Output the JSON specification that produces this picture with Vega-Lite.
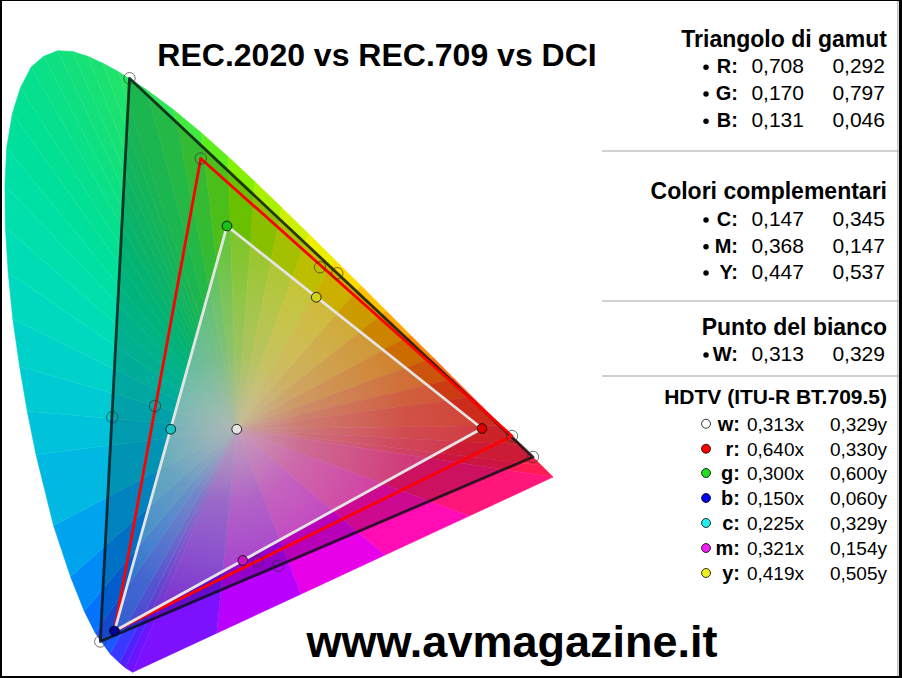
{
  "$schema": "https://vega.github.io/schema/vega-lite/v6.json",
  "width": 897,
  "height": 675,
  "autosize": {"type": "none"},
  "padding": {"left": 2, "top": 1, "right": 3, "bottom": 2},
  "background": "#000000",
  "config": {
    "view": {"fill": "#ffffff", "stroke": null},
    "axis": {"labels": false, "ticks": false, "domain": false, "grid": true, "gridColor": "#a3a3a3", "gridWidth": 1, "titleOpacity": 0},
    "text": {"font": "Liberation Sans"}
  },
  "datasets": {
    "fan": [
      {"s":0,"o":0,"x":0.313,"y":0.329},{"s":0,"o":1,"x":0.1741,"y":0.0050},{"s":0,"o":2,"x":0.1644,"y":0.0109},
      {"s":1,"o":0,"x":0.313,"y":0.329},{"s":1,"o":1,"x":0.1644,"y":0.0109},{"s":1,"o":2,"x":0.1566,"y":0.0177},
      {"s":2,"o":0,"x":0.313,"y":0.329},{"s":2,"o":1,"x":0.1566,"y":0.0177},{"s":2,"o":2,"x":0.1440,"y":0.0297},
      {"s":3,"o":0,"x":0.313,"y":0.329},{"s":3,"o":1,"x":0.1440,"y":0.0297},{"s":3,"o":2,"x":0.1241,"y":0.0578},
      {"s":4,"o":0,"x":0.313,"y":0.329},{"s":4,"o":1,"x":0.1241,"y":0.0578},{"s":4,"o":2,"x":0.1096,"y":0.0868},
      {"s":5,"o":0,"x":0.313,"y":0.329},{"s":5,"o":1,"x":0.1096,"y":0.0868},{"s":5,"o":2,"x":0.0913,"y":0.1327},
      {"s":6,"o":0,"x":0.313,"y":0.329},{"s":6,"o":1,"x":0.0913,"y":0.1327},{"s":6,"o":2,"x":0.0687,"y":0.2007},
      {"s":7,"o":0,"x":0.313,"y":0.329},{"s":7,"o":1,"x":0.0687,"y":0.2007},{"s":7,"o":2,"x":0.0454,"y":0.2950},
      {"s":8,"o":0,"x":0.313,"y":0.329},{"s":8,"o":1,"x":0.0454,"y":0.2950},{"s":8,"o":2,"x":0.0337,"y":0.3531},
      {"s":9,"o":0,"x":0.313,"y":0.329},{"s":9,"o":1,"x":0.0337,"y":0.3531},{"s":9,"o":2,"x":0.0235,"y":0.4127},
      {"s":10,"o":0,"x":0.313,"y":0.329},{"s":10,"o":1,"x":0.0235,"y":0.4127},{"s":10,"o":2,"x":0.0144,"y":0.4760},
      {"s":11,"o":0,"x":0.313,"y":0.329},{"s":11,"o":1,"x":0.0144,"y":0.4760},{"s":11,"o":2,"x":0.0082,"y":0.5384},
      {"s":12,"o":0,"x":0.313,"y":0.329},{"s":12,"o":1,"x":0.0082,"y":0.5384},{"s":12,"o":2,"x":0.0045,"y":0.5980},
      {"s":13,"o":0,"x":0.313,"y":0.329},{"s":13,"o":1,"x":0.0045,"y":0.5980},{"s":13,"o":2,"x":0.0039,"y":0.6548},
      {"s":14,"o":0,"x":0.313,"y":0.329},{"s":14,"o":1,"x":0.0039,"y":0.6548},{"s":14,"o":2,"x":0.0062,"y":0.7040},
      {"s":15,"o":0,"x":0.313,"y":0.329},{"s":15,"o":1,"x":0.0062,"y":0.7040},{"s":15,"o":2,"x":0.0139,"y":0.7502},
      {"s":16,"o":0,"x":0.313,"y":0.329},{"s":16,"o":1,"x":0.0139,"y":0.7502},{"s":16,"o":2,"x":0.0246,"y":0.7842},
      {"s":17,"o":0,"x":0.313,"y":0.329},{"s":17,"o":1,"x":0.0246,"y":0.7842},{"s":17,"o":2,"x":0.0389,"y":0.8120},
      {"s":18,"o":0,"x":0.313,"y":0.329},{"s":18,"o":1,"x":0.0389,"y":0.8120},{"s":18,"o":2,"x":0.0556,"y":0.8262},
      {"s":19,"o":0,"x":0.313,"y":0.329},{"s":19,"o":1,"x":0.0556,"y":0.8262},{"s":19,"o":2,"x":0.0743,"y":0.8338},
      {"s":20,"o":0,"x":0.313,"y":0.329},{"s":20,"o":1,"x":0.0743,"y":0.8338},{"s":20,"o":2,"x":0.0940,"y":0.8328},
      {"s":21,"o":0,"x":0.313,"y":0.329},{"s":21,"o":1,"x":0.0940,"y":0.8328},{"s":21,"o":2,"x":0.1142,"y":0.8262},
      {"s":22,"o":0,"x":0.313,"y":0.329},{"s":22,"o":1,"x":0.1142,"y":0.8262},{"s":22,"o":2,"x":0.1346,"y":0.8170},
      {"s":23,"o":0,"x":0.313,"y":0.329},{"s":23,"o":1,"x":0.1346,"y":0.8170},{"s":23,"o":2,"x":0.1547,"y":0.8059},
      {"s":24,"o":0,"x":0.313,"y":0.329},{"s":24,"o":1,"x":0.1547,"y":0.8059},{"s":24,"o":2,"x":0.1929,"y":0.7816},
      {"s":25,"o":0,"x":0.313,"y":0.329},{"s":25,"o":1,"x":0.1929,"y":0.7816},{"s":25,"o":2,"x":0.2296,"y":0.7543},
      {"s":26,"o":0,"x":0.313,"y":0.329},{"s":26,"o":1,"x":0.2296,"y":0.7543},{"s":26,"o":2,"x":0.2658,"y":0.7243},
      {"s":27,"o":0,"x":0.313,"y":0.329},{"s":27,"o":1,"x":0.2658,"y":0.7243},{"s":27,"o":2,"x":0.3016,"y":0.6923},
      {"s":28,"o":0,"x":0.313,"y":0.329},{"s":28,"o":1,"x":0.3016,"y":0.6923},{"s":28,"o":2,"x":0.3373,"y":0.6589},
      {"s":29,"o":0,"x":0.313,"y":0.329},{"s":29,"o":1,"x":0.3373,"y":0.6589},{"s":29,"o":2,"x":0.3731,"y":0.6245},
      {"s":30,"o":0,"x":0.313,"y":0.329},{"s":30,"o":1,"x":0.3731,"y":0.6245},{"s":30,"o":2,"x":0.4087,"y":0.5896},
      {"s":31,"o":0,"x":0.313,"y":0.329},{"s":31,"o":1,"x":0.4087,"y":0.5896},{"s":31,"o":2,"x":0.4441,"y":0.5547},
      {"s":32,"o":0,"x":0.313,"y":0.329},{"s":32,"o":1,"x":0.4441,"y":0.5547},{"s":32,"o":2,"x":0.4788,"y":0.5202},
      {"s":33,"o":0,"x":0.313,"y":0.329},{"s":33,"o":1,"x":0.4788,"y":0.5202},{"s":33,"o":2,"x":0.5125,"y":0.4866},
      {"s":34,"o":0,"x":0.313,"y":0.329},{"s":34,"o":1,"x":0.5125,"y":0.4866},{"s":34,"o":2,"x":0.5448,"y":0.4544},
      {"s":35,"o":0,"x":0.313,"y":0.329},{"s":35,"o":1,"x":0.5448,"y":0.4544},{"s":35,"o":2,"x":0.5752,"y":0.4242},
      {"s":36,"o":0,"x":0.313,"y":0.329},{"s":36,"o":1,"x":0.5752,"y":0.4242},{"s":36,"o":2,"x":0.6029,"y":0.3965},
      {"s":37,"o":0,"x":0.313,"y":0.329},{"s":37,"o":1,"x":0.6029,"y":0.3965},{"s":37,"o":2,"x":0.6270,"y":0.3725},
      {"s":38,"o":0,"x":0.313,"y":0.329},{"s":38,"o":1,"x":0.6270,"y":0.3725},{"s":38,"o":2,"x":0.6658,"y":0.3340},
      {"s":39,"o":0,"x":0.313,"y":0.329},{"s":39,"o":1,"x":0.6658,"y":0.3340},{"s":39,"o":2,"x":0.6915,"y":0.3083},
      {"s":40,"o":0,"x":0.313,"y":0.329},{"s":40,"o":1,"x":0.6915,"y":0.3083},{"s":40,"o":2,"x":0.7190,"y":0.2809},
      {"s":41,"o":0,"x":0.313,"y":0.329},{"s":41,"o":1,"x":0.7190,"y":0.2809},{"s":41,"o":2,"x":0.7347,"y":0.2653},
      {"s":42,"o":0,"x":0.313,"y":0.329},{"s":42,"o":1,"x":0.7347,"y":0.2653},{"s":42,"o":2,"x":0.6226,"y":0.2132},
      {"s":43,"o":0,"x":0.313,"y":0.329},{"s":43,"o":1,"x":0.6226,"y":0.2132},{"s":43,"o":2,"x":0.5105,"y":0.1612},
      {"s":44,"o":0,"x":0.313,"y":0.329},{"s":44,"o":1,"x":0.5105,"y":0.1612},{"s":44,"o":2,"x":0.3983,"y":0.1091},
      {"s":45,"o":0,"x":0.313,"y":0.329},{"s":45,"o":1,"x":0.3983,"y":0.1091},{"s":45,"o":2,"x":0.2862,"y":0.0571},
      {"s":46,"o":0,"x":0.313,"y":0.329},{"s":46,"o":1,"x":0.2862,"y":0.0571},{"s":46,"o":2,"x":0.1741,"y":0.0050}
    ],
    "tri": [
      {"t":"2020","o":0,"x":0.708,"y":0.292},{"t":"2020","o":1,"x":0.170,"y":0.797},{"t":"2020","o":2,"x":0.131,"y":0.046},{"t":"2020","o":3,"x":0.708,"y":0.292},
      {"t":"DCI","o":0,"x":0.680,"y":0.320},{"t":"DCI","o":1,"x":0.265,"y":0.690},{"t":"DCI","o":2,"x":0.150,"y":0.060},{"t":"DCI","o":3,"x":0.680,"y":0.320},
      {"t":"709","o":0,"x":0.640,"y":0.330},{"t":"709","o":1,"x":0.300,"y":0.600},{"t":"709","o":2,"x":0.150,"y":0.060},{"t":"709","o":3,"x":0.640,"y":0.330}
    ],
    "open": [
      {"x":0.708,"y":0.292},{"x":0.170,"y":0.797},{"x":0.131,"y":0.046},
      {"x":0.680,"y":0.320},{"x":0.265,"y":0.690},
      {"x":0.147,"y":0.345},{"x":0.368,"y":0.147},{"x":0.447,"y":0.537},
      {"x":0.204,"y":0.360},{"x":0.341,"y":0.153},{"x":0.424,"y":0.545}
    ],
    "hd": [
      {"k":"w","x":0.313,"y":0.329,"lab":"w:","v1":"0,313x","v2":"0,329y","ly":0.327},
      {"k":"r","x":0.640,"y":0.330,"lab":"r:","v1":"0,640x","v2":"0,330y","ly":0.2937},
      {"k":"g","x":0.300,"y":0.600,"lab":"g:","v1":"0,300x","v2":"0,600y","ly":0.2613},
      {"k":"b","x":0.150,"y":0.060,"lab":"b:","v1":"0,150x","v2":"0,060y","ly":0.228},
      {"k":"c","x":0.225,"y":0.329,"lab":"c:","v1":"0,225x","v2":"0,329y","ly":0.1947},
      {"k":"m","x":0.321,"y":0.154,"lab":"m:","v1":"0,321x","v2":"0,154y","ly":0.1613},
      {"k":"y","x":0.419,"y":0.505,"lab":"y:","v1":"0,419x","v2":"0,505y","ly":0.128}
    ],
    "leg": [
      {"lab":"R:","v1":"0,708","v2":"0,292","ly":0.8036},
      {"lab":"G:","v1":"0,170","v2":"0,797","ly":0.768},
      {"lab":"B:","v1":"0,131","v2":"0,046","ly":0.7316},
      {"lab":"C:","v1":"0,147","v2":"0,345","ly":0.6},
      {"lab":"M:","v1":"0,368","v2":"0,147","ly":0.5644},
      {"lab":"Y:","v1":"0,447","v2":"0,537","ly":0.5293},
      {"lab":"W:","v1":"0,313","v2":"0,329","ly":0.42}
    ],
    "heads": [
      {"t":"Triangolo di gamut","ly":0.839},
      {"t":"Colori complementari","ly":0.636},
      {"t":"Punto del bianco","ly":0.4547}
    ]
  },
  "resolve": {"scale": {"color": "independent", "fill": "independent", "stroke": "independent"}},
  "layer": [
    {
      "data": {"values": [{"a": 1}]},
      "mark": {"type": "rect", "fill": "#ffffff", "strokeWidth": 0},
      "encoding": {
        "x": {"datum": 0.8012, "type": "quantitative", "scale": {"domain": [0, 1.196], "nice": false, "zero": false}, "axis": {"values": [0.1,0.2,0.3,0.4,0.5,0.6,0.7,0.8], "title": null}},
        "x2": {"datum": 1.196},
        "y": {"datum": 0.1011, "type": "quantitative", "scale": {"domain": [0, 0.9], "nice": false, "zero": false}, "axis": {"values": [0.1,0.2,0.3,0.4,0.5,0.6,0.7,0.8], "title": null}},
        "y2": {"datum": 0.9}
      }
    },
    {
      "data": {"values": [{"a": 1}]},
      "mark": {"type": "rect", "fill": "#ffffff", "strokeWidth": 0},
      "encoding": {
        "x": {"datum": 0.33, "type": "quantitative", "axis": null},
        "x2": {"datum": 1.196},
        "y": {"datum": 0, "type": "quantitative", "axis": null},
        "y2": {"datum": 0.0989}
      }
    },
    {
      "data": {"values": [{"a": 1}]},
      "mark": {"type": "rect", "fill": "#ffffff", "strokeWidth": 0},
      "encoding": {
        "x": {"datum": 0.205, "type": "quantitative", "axis": null},
        "x2": {"datum": 0.7988},
        "y": {"datum": 0.8013, "type": "quantitative", "axis": null},
        "y2": {"datum": 0.9}
      }
    },
    {
      "data": {"values": [{"g": 0.7}, {"g": 0.5}, {"g": 0.4}]},
      "mark": {"type": "rule", "stroke": "#a3a3a3", "strokeWidth": 1},
      "encoding": {
        "x": {"datum": 0.8, "type": "quantitative", "axis": null},
        "x2": {"datum": 1.196},
        "y": {"field": "g", "type": "quantitative", "axis": null}
      }
    },
    {
      "data": {"values": [{"a": 1}]},
      "mark": {"type": "rule", "stroke": "#a3a3a3", "strokeWidth": 1},
      "encoding": {
        "x": {"datum": 1.1945, "type": "quantitative", "axis": null},
        "y": {"datum": 0, "type": "quantitative", "axis": null},
        "y2": {"datum": 0.9}
      }
    },
    {
      "data": {"name": "fan"},
      "mark": {"type": "line", "filled": true, "strokeWidth": 0.6, "strokeJoin": "round"},
      "encoding": {
        "x": {"field": "x", "type": "quantitative", "axis": null},
        "y": {"field": "y", "type": "quantitative", "axis": null},
        "order": {"field": "o"},
        "fill": {"field": "s", "type": "ordinal", "legend": null, "scale": {"domain": [0,1,2,3,4,5,6,7,8,9,10,11,12,13,14,15,16,17,18,19,20,21,22,23,24,25,26,27,28,29,30,31,32,33,34,35,36,37,38,39,40,41,42,43,44,45,46], "range": ["#6a14ff","#5020ff","#3838ff","#1c58ff","#0474ff","#008cf6","#00a4ee","#00b8e2","#00c2da","#00cad2","#00d2ca","#00d9bf","#00ddb6","#00dfac","#00e0a4","#00e09c","#02e094","#06e08e","#0ae088","#0ee082","#12e07c","#16e177","#1ae272","#1ee36c","#24e464","#2ee658","#42ea40","#5eee20","#84f000","#aaf000","#cef000","#eeee00","#ffdc00","#ffc200","#ffa400","#ff8600","#ff6810","#ff4c18","#ff3824","#ff2c34","#ff2242","#ff1c52","#ff167a","#ff0cb4","#e800e8","#b800fc","#7c10ff"]}},
        "stroke": {"field": "s", "type": "ordinal", "legend": null, "scale": {"domain": [0,1,2,3,4,5,6,7,8,9,10,11,12,13,14,15,16,17,18,19,20,21,22,23,24,25,26,27,28,29,30,31,32,33,34,35,36,37,38,39,40,41,42,43,44,45,46], "range": ["#6a14ff","#5020ff","#3838ff","#1c58ff","#0474ff","#008cf6","#00a4ee","#00b8e2","#00c2da","#00cad2","#00d2ca","#00d9bf","#00ddb6","#00dfac","#00e0a4","#00e09c","#02e094","#06e08e","#0ae088","#0ee082","#12e07c","#16e177","#1ae272","#1ee36c","#24e464","#2ee658","#42ea40","#5eee20","#84f000","#aaf000","#cef000","#eeee00","#ffdc00","#ffc200","#ffa400","#ff8600","#ff6810","#ff4c18","#ff3824","#ff2c34","#ff2242","#ff1c52","#ff167a","#ff0cb4","#e800e8","#b800fc","#7c10ff"]}}
      }
    },
    {
      "data": {"name": "tri"},
      "transform": [{"filter": "datum.t == '2020'"}],
      "mark": {"type": "line", "filled": true, "fill": "#000000", "fillOpacity": 0.2, "strokeWidth": 0},
      "encoding": {
        "x": {"field": "x", "type": "quantitative", "axis": null},
        "y": {"field": "y", "type": "quantitative", "axis": null},
        "order": {"field": "o"}
      }
    },
    {
      "data": {"name": "tri"},
      "transform": [{"filter": "datum.t == '709'"}],
      "mark": {"type": "line", "filled": true, "strokeWidth": 0,
        "fill": {"gradient": "radial", "x1": 0.333, "y1": 0.502, "r1": 0, "x2": 0.333, "y2": 0.502, "r2": 0.72,
          "stops": [
            {"offset": 0, "color": "rgba(196,186,182,0.88)"},
            {"offset": 0.25, "color": "rgba(206,198,196,0.5)"},
            {"offset": 0.6, "color": "rgba(222,218,218,0.22)"},
            {"offset": 1, "color": "rgba(255,255,255,0.06)"}
          ]}},
      "encoding": {
        "x": {"field": "x", "type": "quantitative", "axis": null},
        "y": {"field": "y", "type": "quantitative", "axis": null},
        "order": {"field": "o"}
      }
    },
    {
      "data": {"name": "tri"},
      "mark": {"type": "line", "strokeWidth": 2.8, "strokeJoin": "round", "strokeCap": "round"},
      "encoding": {
        "x": {"field": "x", "type": "quantitative", "axis": null},
        "y": {"field": "y", "type": "quantitative", "axis": null},
        "order": {"field": "o"},
        "stroke": {"field": "t", "type": "nominal", "legend": null, "scale": {"domain": ["2020", "DCI", "709"], "range": ["rgba(8,16,16,0.8)", "#ff0000", "#e4e4e4"]}}
      }
    },
    {
      "data": {"name": "open"},
      "mark": {"type": "point", "shape": "circle", "size": 130, "filled": false, "stroke": "#303030", "strokeWidth": 0.9, "opacity": 0.75},
      "encoding": {
        "x": {"field": "x", "type": "quantitative", "axis": null},
        "y": {"field": "y", "type": "quantitative", "axis": null}
      }
    },
    {
      "data": {"name": "hd"},
      "mark": {"type": "point", "shape": "circle", "size": 95, "filled": true, "stroke": "#000000", "strokeWidth": 0.8, "opacity": 1},
      "encoding": {
        "x": {"field": "x", "type": "quantitative", "axis": null},
        "y": {"field": "y", "type": "quantitative", "axis": null},
        "fill": {"field": "k", "type": "nominal", "legend": null, "scale": {"domain": ["w","r","g","b","c","m","y"], "range": ["#e4e4e4","#dd0000","#18c018","#000090","#14c4c4","#c414c4","#d2d21e"]}}
      }
    },
    {
      "data": {"values": [{"t": "REC.2020 vs REC.709 vs DCI"}]},
      "mark": {"type": "text", "fontSize": 32, "fontWeight": "bold", "align": "center", "baseline": "alphabetic", "fill": "#000000"},
      "encoding": {
        "x": {"datum": 0.5, "type": "quantitative", "axis": null},
        "y": {"datum": 0.8133, "type": "quantitative", "axis": null},
        "text": {"field": "t"}
      }
    },
    {
      "data": {"values": [{"t": "www.avmagazine.it"}]},
      "mark": {"type": "text", "fontSize": 45, "fontWeight": "bold", "align": "center", "baseline": "alphabetic", "fill": "#000000"},
      "encoding": {
        "x": {"datum": 0.68, "type": "quantitative", "axis": null},
        "y": {"datum": 0.0253, "type": "quantitative", "axis": null},
        "text": {"field": "t"}
      }
    },
    {
      "data": {"name": "heads"},
      "mark": {"type": "text", "fontSize": 23, "fontWeight": "bold", "align": "right", "baseline": "alphabetic", "fill": "#000000"},
      "encoding": {
        "x": {"datum": 1.18, "type": "quantitative", "axis": null},
        "y": {"field": "ly", "type": "quantitative", "axis": null},
        "text": {"field": "t"}
      }
    },
    {
      "data": {"values": [{"t": "HDTV (ITU-R BT.709.5)", "ly": 0.3623}]},
      "mark": {"type": "text", "fontSize": 21, "fontWeight": "bold", "align": "right", "baseline": "alphabetic", "fill": "#000000"},
      "encoding": {
        "x": {"datum": 1.18, "type": "quantitative", "axis": null},
        "y": {"field": "ly", "type": "quantitative", "axis": null},
        "text": {"field": "t"}
      }
    },
    {
      "data": {"name": "leg"},
      "mark": {"type": "point", "shape": "circle", "size": 30, "filled": true, "fill": "#000000", "opacity": 1, "yOffset": -6},
      "encoding": {
        "x": {"datum": 0.9387, "type": "quantitative", "axis": null},
        "y": {"field": "ly", "type": "quantitative", "axis": null}
      }
    },
    {
      "data": {"name": "leg"},
      "mark": {"type": "text", "fontSize": 20, "fontWeight": "bold", "align": "right", "baseline": "alphabetic", "fill": "#000000"},
      "encoding": {
        "x": {"datum": 0.9813, "type": "quantitative", "axis": null},
        "y": {"field": "ly", "type": "quantitative", "axis": null},
        "text": {"field": "lab"}
      }
    },
    {
      "data": {"name": "leg"},
      "mark": {"type": "text", "fontSize": 21, "align": "right", "baseline": "alphabetic", "fill": "#000000"},
      "encoding": {
        "x": {"datum": 1.0693, "type": "quantitative", "axis": null},
        "y": {"field": "ly", "type": "quantitative", "axis": null},
        "text": {"field": "v1"}
      }
    },
    {
      "data": {"name": "leg"},
      "mark": {"type": "text", "fontSize": 21, "align": "right", "baseline": "alphabetic", "fill": "#000000"},
      "encoding": {
        "x": {"datum": 1.1773, "type": "quantitative", "axis": null},
        "y": {"field": "ly", "type": "quantitative", "axis": null},
        "text": {"field": "v2"}
      }
    },
    {
      "data": {"name": "hd"},
      "mark": {"type": "point", "shape": "circle", "size": 80, "filled": true, "stroke": "#000000", "strokeWidth": 0.8, "opacity": 1, "yOffset": -7},
      "encoding": {
        "x": {"datum": 0.9387, "type": "quantitative", "axis": null},
        "y": {"field": "ly", "type": "quantitative", "axis": null},
        "color": {"field": "k", "type": "nominal", "legend": null, "scale": {"domain": ["w","r","g","b","c","m","y"], "range": ["#ffffff","#ff0000","#22dd22","#0000ee","#22eeee","#ee22ee","#eeee22"]}}
      }
    },
    {
      "data": {"name": "hd"},
      "mark": {"type": "text", "fontSize": 20, "fontWeight": "bold", "align": "right", "baseline": "alphabetic", "fill": "#000000"},
      "encoding": {
        "x": {"datum": 0.984, "type": "quantitative", "axis": null},
        "y": {"field": "ly", "type": "quantitative", "axis": null},
        "text": {"field": "lab"}
      }
    },
    {
      "data": {"name": "hd"},
      "mark": {"type": "text", "fontSize": 19, "align": "right", "baseline": "alphabetic", "fill": "#000000"},
      "encoding": {
        "x": {"datum": 1.0693, "type": "quantitative", "axis": null},
        "y": {"field": "ly", "type": "quantitative", "axis": null},
        "text": {"field": "v1"}
      }
    },
    {
      "data": {"name": "hd"},
      "mark": {"type": "text", "fontSize": 19, "align": "right", "baseline": "alphabetic", "fill": "#000000"},
      "encoding": {
        "x": {"datum": 1.18, "type": "quantitative", "axis": null},
        "y": {"field": "ly", "type": "quantitative", "axis": null},
        "text": {"field": "v2"}
      }
    }
  ]
}
